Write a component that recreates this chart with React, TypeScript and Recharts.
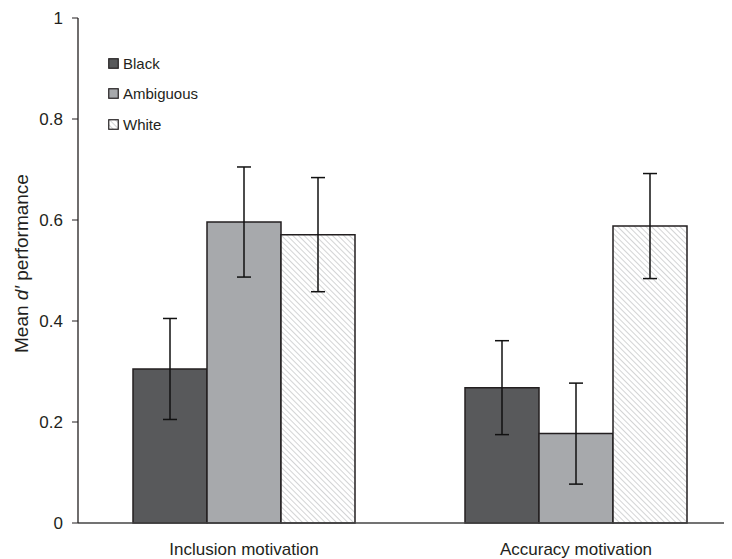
import React from "react";
import {
  BarChart,
  Bar,
  XAxis,
  YAxis,
  ErrorBar,
  Legend,
} from "recharts";

const conditions = ["Inclusion motivation", "Accuracy motivation"];
const blackMean = [0.305, 0.268];
const blackErr = [0.1, 0.093];
const ambiguousMean = [0.596, 0.177];
const ambiguousErr = [0.109, 0.1];
const whiteMean = [0.571, 0.588];
const whiteErr = [0.113, 0.104];
const yTicks = [0, 0.2, 0.4, 0.6, 0.8, 1];

const FONT = "'Liberation Sans', Arial, sans-serif";
const EDGE = "#231f20";

const data = conditions.map((c, i) => ({
  name: c,
  black: blackMean[i],
  blackErr: blackErr[i],
  ambiguous: ambiguousMean[i],
  ambiguousErr: ambiguousErr[i],
  white: whiteMean[i],
  whiteErr: whiteErr[i],
}));

const legendItems = [
  { label: "Black", fill: "#58595b" },
  { label: "Ambiguous", fill: "#a7a9ac" },
  { label: "White", fill: "url(#hatch)" },
];

function LegendBox() {
  return (
    <div style={{ fontFamily: FONT, fontSize: 15, color: "#231f20" }}>
      {legendItems.map((it) => (
        <div key={it.label} style={{ display: "flex", alignItems: "center", height: 30.5 }}>
          <svg width={11} height={11} style={{ marginRight: 4 }}>
            <rect x={0.75} y={0.75} width={9.5} height={9.5} fill={it.fill} stroke={EDGE} strokeWidth={1.2} />
          </svg>
          <span>{it.label}</span>
        </div>
      ))}
    </div>
  );
}

function YLabel({ viewBox }: any) {
  // label sits a little above the plot's middle in the original
  const cy = viewBox.y + viewBox.height / 2 - 7;
  return (
    <text
      x={13}
      y={cy}
      transform={`rotate(-90 13 ${cy})`}
      textAnchor="middle"
      dominantBaseline="central"
      fontFamily={FONT}
      fontSize={19}
      fill="#231f20"
    >
      Mean <tspan fontStyle="italic">d′</tspan> performance
    </text>
  );
}

export default function App() {
  return (
    <div style={{ width: 724, height: 551, overflow: "hidden" }}>
      <BarChart
        width={740}
        height={551}
        data={data}
        margin={{ top: 10, right: 6, bottom: 0, left: 0 }}
        barCategoryGap={55}
        barGap={0}
      >
        <defs>
          <pattern id="hatch" width={4} height={4} patternUnits="userSpaceOnUse" patternTransform="rotate(-45)">
            <rect width={4} height={4} fill="#ffffff" />
            <line x1={0} y1={0} x2={0} y2={4} stroke="#c8c9cb" strokeWidth={1.6} />
          </pattern>
        </defs>
        <XAxis
          xAxisId="mid"
          type="number"
          domain={[0, 2]}
          ticks={[1]}
          height={0}
          axisLine={false}
          tickSize={5}
          tickLine={{ stroke: EDGE, strokeWidth: 1 }}
          tickFormatter={() => ""}
          allowDataOverflow
        />
        <XAxis
          xAxisId="cat"
          dataKey="name"
          height={36}
          tickLine={false}
          tickMargin={14}
          axisLine={{ stroke: "#444", strokeWidth: 1.3 }}
          tick={{ fontFamily: FONT, fontSize: 17, fill: "#231f20" }}
        />
        <YAxis
          width={70}
          domain={[0, 1]}
          ticks={yTicks}
          tickFormatter={(v) => String(v)}
          tickSize={6}
          tickMargin={9}
          axisLine={{ stroke: EDGE, strokeWidth: 1.3 }}
          tickLine={{ stroke: EDGE, strokeWidth: 1 }}
          tick={{ fontFamily: FONT, fontSize: 17, fill: "#231f20" }}
          label={<YLabel />}
        />
        <Legend
          verticalAlign="middle"
          align="center"
          layout="vertical"
          content={<LegendBox />}
          wrapperStyle={{ left: 100, top: 40, width: 140 }}
        />
        <Bar xAxisId="cat" dataKey="black" name="Black" fill="#58595b" stroke={EDGE} strokeWidth={1.5} isAnimationActive={false}>
          <ErrorBar dataKey="blackErr" width={7} stroke="#111" strokeWidth={1.5} />
        </Bar>
        <Bar xAxisId="cat" dataKey="ambiguous" name="Ambiguous" fill="#a7a9ac" stroke={EDGE} strokeWidth={1.5} isAnimationActive={false}>
          <ErrorBar dataKey="ambiguousErr" width={7} stroke="#111" strokeWidth={1.5} />
        </Bar>
        <Bar xAxisId="cat" dataKey="white" name="White" fill="url(#hatch)" stroke={EDGE} strokeWidth={1.5} isAnimationActive={false}>
          <ErrorBar dataKey="whiteErr" width={7} stroke="#111" strokeWidth={1.5} />
        </Bar>
      </BarChart>
    </div>
  );
}
